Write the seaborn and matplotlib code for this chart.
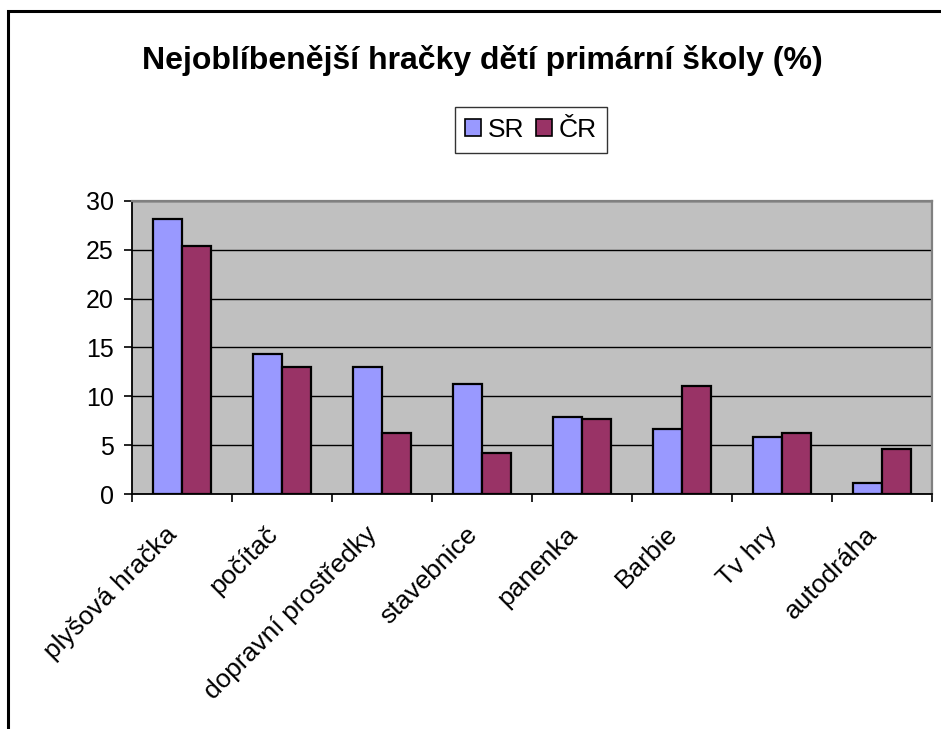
import pandas as pd
import numpy as np
import matplotlib
matplotlib.use('Agg')
import matplotlib.pyplot as plt
import matplotlib.transforms as mtransforms
from matplotlib.patches import Rectangle, Patch
import seaborn as sns

sns.set_style('white')
plt.rcParams['font.family'] = ['Liberation Sans', 'DejaVu Sans']
plt.rcParams['text.color'] = 'black'
plt.rcParams['xtick.color'] = 'black'
plt.rcParams['ytick.color'] = 'black'

hracky = ['plyšová hračka', 'počítač', 'dopravní prostředky', 'stavebnice',
          'panenka', 'Barbie', 'Tv hry', 'autodráha']
sr = [28.1, 14.3, 13.0, 11.3, 7.9, 6.7, 5.9, 1.2]
cr = [25.4, 13.0, 6.3, 4.2, 7.7, 11.1, 6.3, 4.6]
zeme = ['SR', 'ČR']
barvy = ['#9999FF', '#993366']

df = pd.DataFrame({
    'hracka': hracky * 2,
    'podil': sr + cr,
    'zeme': ['SR'] * len(hracky) + ['ČR'] * len(hracky),
})

fig = plt.figure(figsize=(9.41, 7.29), dpi=100)
ax = fig.add_axes([132 / 941, 1 - 494.3 / 729, 800 / 941, 293.6 / 729])
ax.set_facecolor('#C0C0C0')

sns.barplot(data=df, x='hracka', y='podil', hue='zeme', hue_order=zeme,
            palette=barvy, saturation=1, width=0.58, edgecolor='black',
            linewidth=1.6, ax=ax, legend=False, zorder=3)

ax.set_ylim(0, 30)
ax.set_xlim(-0.5, len(hracky) - 0.5)
ax.set_yticks(np.arange(0, 31, 5))
ax.yaxis.grid(True, color='black', linewidth=1, zorder=0)
ax.set_axisbelow(True)
ax.set_xlabel('')
ax.set_ylabel('')

ax.set_xticks(np.arange(len(hracky)))
ax.set_xticklabels(hracky, rotation=45, ha='right', rotation_mode='anchor',
                   fontsize=19, color='black')
ax.set_xticks(np.arange(-0.5, len(hracky)), minor=True)
ax.tick_params(axis='x', which='major', length=0, pad=20)
ax.tick_params(axis='x', which='minor', length=6, width=1.2, color='black',
               bottom=True, direction='out')
ax.tick_params(axis='y', length=6, width=1.2, color='black', left=True,
               direction='out', labelsize=18, labelcolor='black', pad=7)

# posun popisků kategorií doleva
posun = mtransforms.ScaledTranslation(-0.17, 0, fig.dpi_scale_trans)
for lab in ax.get_xticklabels():
    lab.set_transform(lab.get_transform() + posun)

for s in ['left', 'bottom']:
    ax.spines[s].set_color('black')
    ax.spines[s].set_linewidth(1.3)
for s in ['top', 'right']:
    ax.spines[s].set_color('#808080')
    ax.spines[s].set_linewidth(1.6)

fig.text(482 / 941, 1 - 60 / 729, 'Nejoblíbenější hračky dětí primární školy (%)',
         ha='center', va='center', fontsize=23, fontweight='bold', color='black')

handles = [Patch(facecolor=c, edgecolor='black', linewidth=1.2) for c in barvy]
leg = fig.legend(handles, zeme, loc='center', bbox_to_anchor=(531 / 941, 1 - 130 / 729),
                 ncol=2, fontsize=19, frameon=True, fancybox=False,
                 handlelength=0.6, handleheight=0.6, handletextpad=0.25,
                 columnspacing=0.45, borderpad=0.4, borderaxespad=0,
                 labelcolor='black')
leg.get_frame().set_edgecolor('black')
leg.get_frame().set_linewidth(1)

top = 1 - 11 / 729
fig.patches.append(Rectangle((8 / 941, -0.5), 1.5, top + 0.5,
                             transform=fig.transFigure, fill=False,
                             edgecolor='black', linewidth=2.2))

fig.savefig('out.png', dpi=100)
